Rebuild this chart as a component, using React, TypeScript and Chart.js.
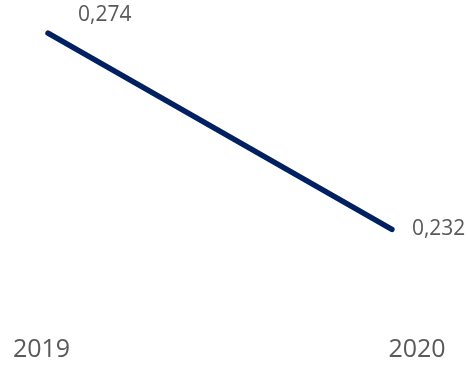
import React, { useEffect, useRef } from "react";
import { Chart, registerables } from "chart.js";

Chart.register(...registerables);

const years = ["2019", "2020"];
const xValues = [2019, 2020];
const values = [0.274, 0.232];

const X_MIN = 2018.981;
const X_MAX = 2020.073;
const Y_MIN = 0.2111;
const Y_MAX = 0.2811;

const LINE_COLOR = "#002060";
const TEXT_COLOR = "#595959";
const FONT_FAMILY = "'Open Sans', Lato, sans-serif";
const LABEL_OFFSETS = [
  { dx: 30, dy: -18 },
  { dx: 20, dy: 0 },
];

const labelPlugin = {
  id: "pointLabels",
  afterDatasetsDraw(chart: any) {
    const ctx = chart.ctx;
    const meta = chart.getDatasetMeta(0);
    ctx.save();
    ctx.font = `21px ${FONT_FAMILY}`;
    ctx.fillStyle = TEXT_COLOR;
    ctx.textAlign = "left";
    ctx.textBaseline = "middle";
    meta.data.forEach((pt: any, i: number) => {
      const txt = values[i].toFixed(3).replace(".", ",");
      const o = LABEL_OFFSETS[i];
      ctx.fillText(txt, pt.x + o.dx, pt.y + o.dy);
    });
    ctx.restore();
  },
};

export default function App() {
  const ref = useRef<HTMLCanvasElement>(null);
  useEffect(() => {
    if (!ref.current) return;
    const chart = new Chart(ref.current, {
      type: "line",
      data: {
        datasets: [
          {
            data: xValues.map((x, i) => ({ x, y: values[i] })),
            borderColor: LINE_COLOR,
            borderWidth: 5.5,
            borderCapStyle: "round",
            pointRadius: 0,
            fill: false,
            tension: 0,
            xAxisID: "x",
            yAxisID: "y",
          },
        ],
      },
      options: {
        responsive: false,
        animation: false,
        layout: { padding: { left: 41.5, right: 51, top: 0, bottom: 0 } },
        plugins: { legend: { display: false }, tooltip: { enabled: false } },
        scales: {
          x: { type: "linear", display: false, min: X_MIN, max: X_MAX },
          x2: {
            type: "category",
            labels: years,
            position: "bottom",
            offset: false,
            grid: { display: false },
            border: { display: false },
            ticks: {
              color: TEXT_COLOR,
              font: { family: FONT_FAMILY, size: 25 },
              padding: 0,
              maxRotation: 0,
              autoSkip: false,
            },
          },
          y: { display: false, min: Y_MIN, max: Y_MAX },
        },
      },
      plugins: [labelPlugin],
    } as any);
    return () => chart.destroy();
  }, []);
  return (
    <div style={{ position: "absolute", left: 0, top: 0, width: 468, height: 365, background: "#fff" }}>
      <canvas ref={ref} width={468} height={365} />
    </div>
  );
}
